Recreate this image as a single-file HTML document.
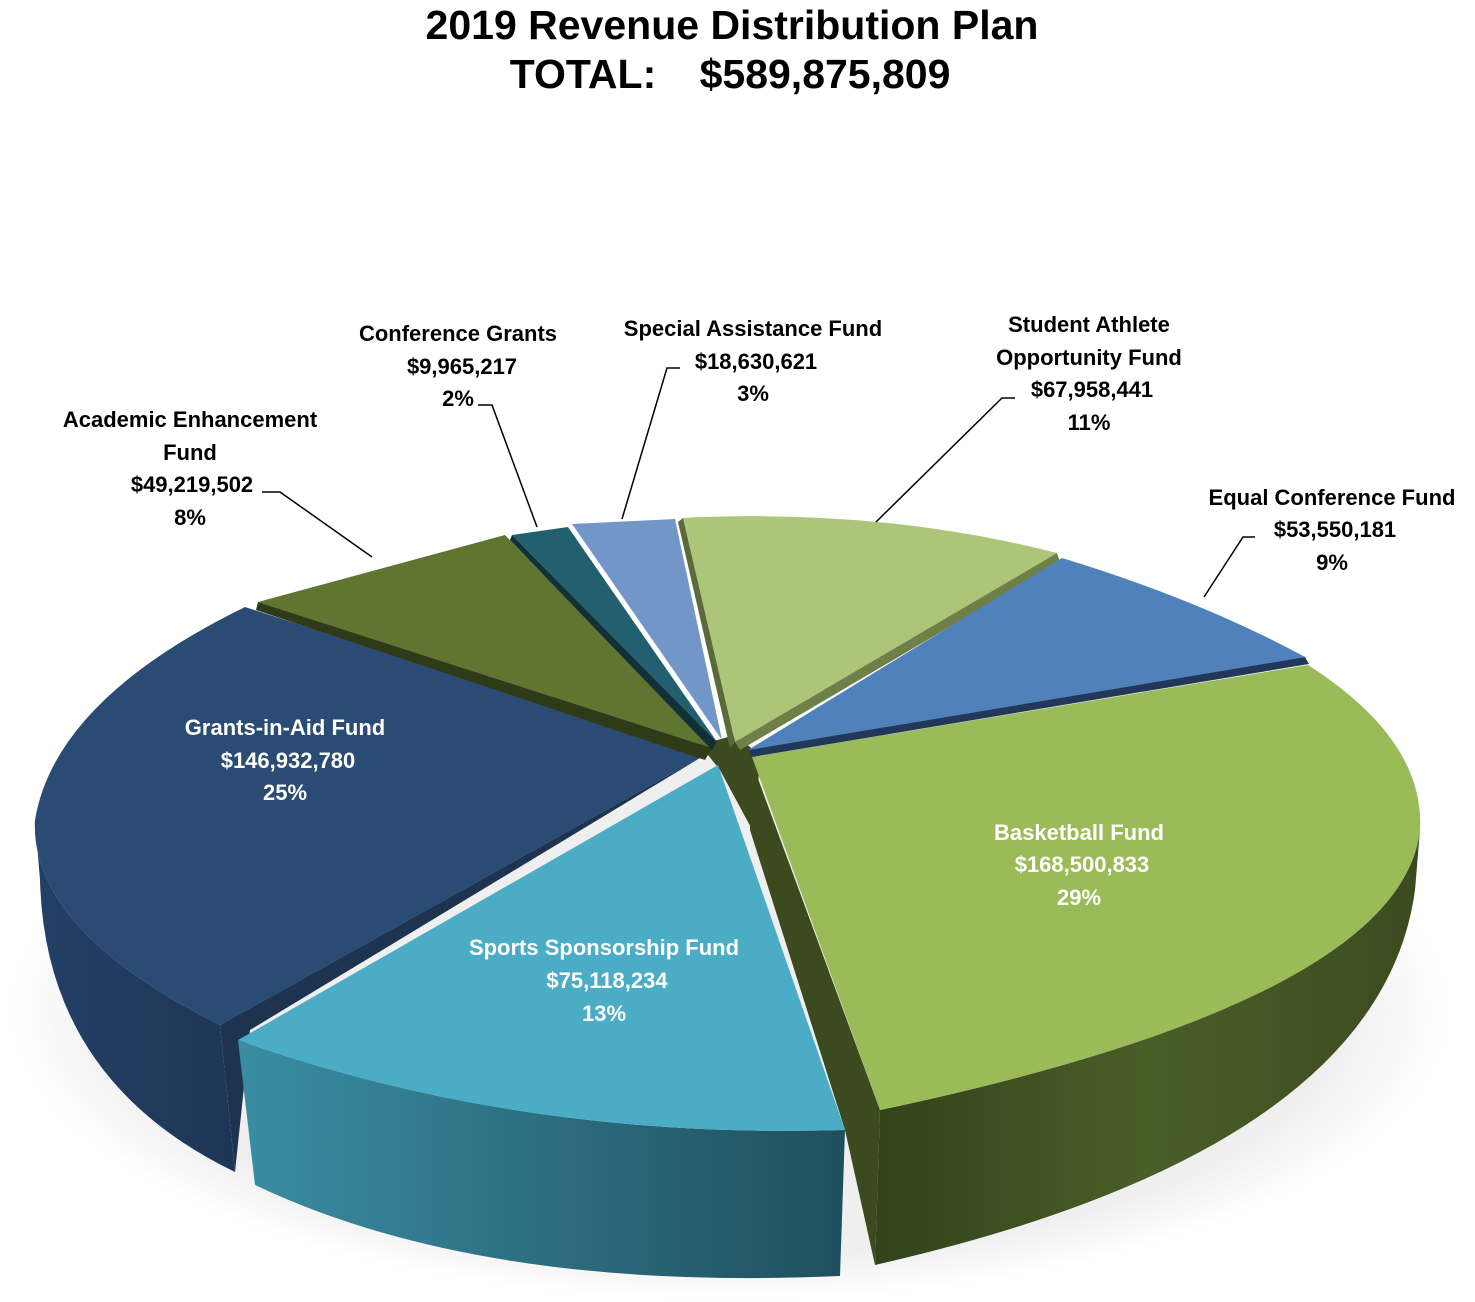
<!DOCTYPE html>
<html><head><meta charset="utf-8"><style>
html,body{margin:0;padding:0;background:#fff;}
svg{display:block;}
.t{font-family:"Liberation Sans",Arial,sans-serif;font-weight:bold;font-size:41px;fill:#000;}
.l{font-family:"Liberation Sans",sans-serif;font-weight:bold;font-size:22px;fill:#000;}
.w{font-family:"Liberation Sans",sans-serif;font-weight:bold;font-size:22px;fill:#fff;}
</style></head><body>
<svg width="1475" height="1302" viewBox="0 0 1475 1302" xmlns="http://www.w3.org/2000/svg">
<defs>
<linearGradient id="gs" x1="0" x2="1" y1="0" y2="0"><stop offset="0" stop-color="#3A8DA3"/><stop offset="1" stop-color="#1F4F5E"/></linearGradient>
<linearGradient id="gb" x1="0" x2="1" y1="0" y2="0"><stop offset="0" stop-color="#33421A"/><stop offset="0.5" stop-color="#4A5E28"/><stop offset="1" stop-color="#3B4B1E"/></linearGradient>
<linearGradient id="gg" x1="0" x2="1" y1="0" y2="0"><stop offset="0" stop-color="#243F66"/><stop offset="1" stop-color="#1E3656"/></linearGradient>
<radialGradient id="sh" cx="0.5" cy="0.5" r="0.5"><stop offset="0.85" stop-color="#efefef"/><stop offset="1" stop-color="#fff"/></radialGradient>
</defs>
<text class="t" x="732" y="39" text-anchor="middle">2019 Revenue Distribution Plan</text>
<text class="t" x="583" y="88" text-anchor="middle">TOTAL:</text>
<text class="t" x="825" y="88" text-anchor="middle">$589,875,809</text>

<ellipse cx="730" cy="1010" rx="720" ry="290" fill="url(#sh)"/>
<!-- center fill -->
<path d="M700,745 L735,735 L760,755 L755,835 L720,770 Z" fill="#3C4B1F"/>
<!-- Grants side -->
<path d="M35,820 Q30,930 220,1025 L235,1172 Q45,1080 40,880 Z" fill="url(#gg)"/>
<path d="M705,755 L220,1025 Q30,930 35,820 Q55,700 245,607 Z" fill="#2A4B74"/>
<path d="M705,755 L220,1025 L235,1172 L250,1030 Z" fill="#1E3350"/>
<!-- Academic -->
<path d="M712,748 L258,602 L505,535 Z" fill="#5F7530"/>
<path d="M712,748 L258,602 L256,610 L705,760 Z" fill="#2F3A17"/>
<!-- Conference grants -->
<path d="M717,742 L512,535 L568,527 Z" fill="#23606F"/>
<path d="M717,742 L512,535 L510,540 L712,750 Z" fill="#123038"/>
<!-- Special -->
<path d="M722,740 L572,524 L675,519 Z" fill="#7396C9"/>
<!-- Student athlete -->
<path d="M735,742 L683,518 Q880,508 1057,553 Z" fill="#ACC578"/>
<path d="M735,742 L1057,553 L1060,562 L740,750 Z" fill="#6E8048"/>
<path d="M735,742 L683,518 L678,522 L730,748 Z" fill="#5A6A3A"/>
<!-- Equal conference -->
<path d="M748,750 L1062,558 Q1200,600 1305,657 Z" fill="#4F81BD"/>
<path d="M748,750 L1305,657 L1309,664 L752,757 Z" fill="#22385A"/>
<!-- Sports -->
<path d="M238,1040 Q520,1140 845,1130 L840,1276 Q480,1292 255,1185 Z" fill="url(#gs)"/>
<path d="M718,765 L845,1130 Q520,1140 238,1040 Z" fill="#4BACC6"/>
<!-- Basketball -->
<path d="M880,1110 Q1400,1000 1420,830 L1415,890 Q1380,1150 875,1265 Z" fill="url(#gb)"/>
<path d="M750,757 L880,1110 L875,1265 L845,1130 L750,830 Z" fill="#3C4B1F"/>
<path d="M752,757 L1308,665 Q1425,740 1420,830 Q1400,1000 880,1110 Z" fill="#9BBB59"/>

<g stroke="#000" stroke-width="1.5" fill="none">
<polyline points="262,492 280,492 372,557"/>
<polyline points="478,405 492,405 537,527"/>
<polyline points="680,368 667,368 622,519"/>
<polyline points="1015,398 1002,398 876,522"/>
<polyline points="1255,537 1243,537 1204,597"/>
</g>

<g class="l" text-anchor="middle">
<text x="190" y="427">Academic Enhancement</text>
<text x="190" y="460">Fund</text>
<text x="192" y="492">$49,219,502</text>
<text x="190" y="525">8%</text>
<text x="458" y="341">Conference Grants</text>
<text x="462" y="374">$9,965,217</text>
<text x="458" y="406">2%</text>
<text x="753" y="336">Special Assistance Fund</text>
<text x="756" y="369">$18,630,621</text>
<text x="753" y="401">3%</text>
<text x="1089" y="332">Student Athlete</text>
<text x="1089" y="365">Opportunity Fund</text>
<text x="1092" y="397">$67,958,441</text>
<text x="1089" y="430">11%</text>
<text x="1332" y="505">Equal Conference Fund</text>
<text x="1335" y="537">$53,550,181</text>
<text x="1332" y="570">9%</text>
</g>
<g class="w" text-anchor="middle">
<text x="285" y="735">Grants-in-Aid Fund</text>
<text x="288" y="768">$146,932,780</text>
<text x="285" y="800">25%</text>
<text x="1079" y="840">Basketball Fund</text>
<text x="1082" y="872">$168,500,833</text>
<text x="1079" y="905">29%</text>
<text x="604" y="955">Sports Sponsorship Fund</text>
<text x="607" y="988">$75,118,234</text>
<text x="604" y="1021">13%</text>
</g>
</svg>
</body></html>
